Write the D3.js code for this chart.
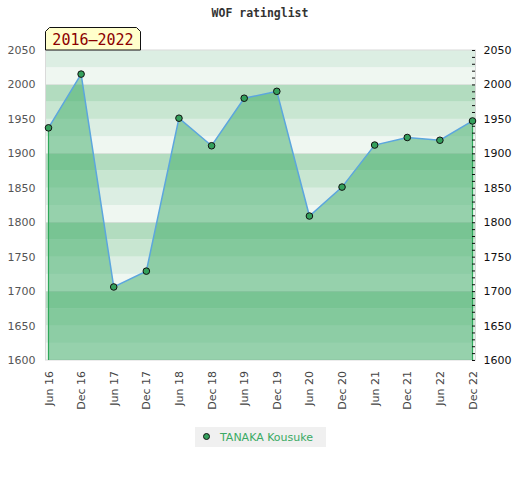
<!DOCTYPE html>
<html>
<head>
<meta charset="utf-8">
<script src="https://cdn.jsdelivr.net/npm/d3@7"></script>
<style>
  body { margin: 0; background: #fff; }
  svg { display: block; }
</style>
</head>
<body>
<div id="chart"></div>
<script>
// rating periods and values for TANAKA Kousuke
const periods = ["Jun 16", "Dec 16", "Jun 17", "Dec 17", "Jun 18", "Dec 18", "Jun 19",
                 "Dec 19", "Jun 20", "Dec 20", "Jun 21", "Dec 21", "Jun 22", "Dec 22"];
const ratings = [1937, 2015, 1706, 1729, 1951, 1911, 1980, 1990, 1809, 1851, 1912, 1923, 1919, 1947];
const yTicks = [1600, 1650, 1700, 1750, 1800, 1850, 1900, 1950, 2000, 2050];
const playerName = "TANAKA Kousuke";
const rangeLabel = "2016\u20132022";
const chartTitle = "WOF ratinglist";

const W = 520, H = 480;
const plot = { left: 45.5, right: 475.5, top: 50, bottom: 360 };
const stripColors = ["#b2dcbf", "#c8e6d1", "#dceee3", "#eff7f1"];

const svg = d3.select("#chart").append("svg")
    .attr("width", W)
    .attr("height", H);

const x = d3.scalePoint()
    .domain(periods)
    .range([48.5, 472.5]);

const y = d3.scaleLinear()
    .domain([1600, 2050])
    .range([plot.bottom, plot.top]);

// title
svg.append("text")
    .attr("x", 260)
    .attr("y", 17)
    .attr("text-anchor", "middle")
    .style("font-family", "'DejaVu Sans Mono', monospace")
    .style("font-weight", "bold")
    .style("font-size", "11.5px")
    .style("fill", "#333")
    .text(chartTitle);

// background strips, 4 per hundred
const strips = d3.range(1600, 2050, 25);
svg.append("g").selectAll("rect")
    .data(strips)
    .enter()
    .append("rect")
    .attr("x", plot.left)
    .attr("width", plot.right - plot.left)
    .attr("y", d => y(d + 25))
    .attr("height", d => y(d) - y(d + 25))
    .attr("fill", d => stripColors[((100 - ((d + 25) % 100)) % 100) / 25]);

// faint lines every hundred
svg.append("g").selectAll("line")
    .data(d3.range(1700, 2050, 100))
    .enter()
    .append("line")
    .attr("x1", plot.left)
    .attr("x2", plot.right)
    .attr("y1", d => Math.round(y(d)) + 0.5)
    .attr("y2", d => Math.round(y(d)) + 0.5)
    .attr("stroke", "#d6d6d6")
    .attr("stroke-opacity", 0.5);

// plot frame
svg.append("rect")
    .attr("x", plot.left)
    .attr("y", plot.top)
    .attr("width", plot.right - plot.left)
    .attr("height", plot.bottom - plot.top)
    .attr("fill", "none")
    .attr("stroke", "#dadada");

const data = periods.map((p, i) => ({ p, v: ratings[i] }));

// area under the rating line
const area = d3.area()
    .x(d => x(d.p))
    .y0(y(1600))
    .y1(d => y(d.v));

svg.append("path")
    .datum(data)
    .attr("d", area)
    .attr("fill", "rgba(62,172,103,0.5)")
    .attr("stroke", "none");

// green side edges of the area
svg.append("g").selectAll("line")
    .data([data[0], data[data.length - 1]])
    .enter()
    .append("line")
    .attr("x1", d => x(d.p))
    .attr("x2", d => x(d.p))
    .attr("y1", d => y(d.v))
    .attr("y2", y(1600))
    .attr("stroke", "#2fa85a")
    .attr("stroke-width", 1.2);

// rating line
svg.append("path")
    .datum(data)
    .attr("d", d3.line().x(d => x(d.p)).y(d => y(d.v)))
    .attr("fill", "none")
    .attr("stroke", "#5ca6de")
    .attr("stroke-width", 1.5);

// left axis: labels only
const leftAxis = svg.append("g")
    .attr("transform", `translate(${plot.left},0)`)
    .call(d3.axisLeft(y).tickValues(yTicks).tickSize(0).tickPadding(10).tickFormat(d3.format("d")));
leftAxis.select(".domain").remove();
leftAxis.selectAll("text")
    .style("font-family", "'DejaVu Sans', sans-serif")
    .style("font-size", "11px")
    .style("fill", "#555");

// right axis: minor ticks every 10
const rightTicks = svg.append("g")
    .attr("transform", `translate(${plot.right - 0.5},0)`)
    .call(d3.axisRight(y).tickValues(d3.range(1600, 2051, 10)).tickSize(-3).tickFormat(""));
rightTicks.select(".domain").remove();
rightTicks.selectAll("line").attr("stroke", "#111");

const rightAxis = svg.append("g")
    .attr("transform", `translate(${plot.right},0)`)
    .call(d3.axisRight(y).tickValues(yTicks).tickSize(0).tickPadding(8).tickFormat(d3.format("d")));
rightAxis.select(".domain").remove();
rightAxis.selectAll("text")
    .style("font-family", "'DejaVu Sans', sans-serif")
    .style("font-size", "11px")
    .style("fill", "#111");

// x labels, rotated
svg.append("g").selectAll("text")
    .data(periods)
    .enter()
    .append("text")
    .attr("transform", d => `translate(${x(d) + 4},371) rotate(-90)`)
    .attr("text-anchor", "end")
    .style("font-family", "'DejaVu Sans', sans-serif")
    .style("font-size", "11px")
    .style("fill", "#444")
    .text(d => d);

// points
svg.append("g").selectAll("circle")
    .data(data)
    .enter()
    .append("circle")
    .attr("cx", d => x(d.p))
    .attr("cy", d => y(d.v))
    .attr("r", 3.3)
    .attr("fill", "#34a05c")
    .attr("stroke", "#111")
    .attr("stroke-width", 1);

// range label tab
const tab = { x0: 45.5, x1: 140.5, y0: 27.5, y1: 50 };
svg.append("path")
    .attr("d", `M${tab.x0},${tab.y1} L${tab.x0},${tab.y0 + 4} L${tab.x0 + 4},${tab.y0} ` +
               `L${tab.x1 - 4},${tab.y0} L${tab.x1},${tab.y0 + 4} L${tab.x1},${tab.y1} Z`)
    .attr("fill", "#ffffcc")
    .attr("stroke", "#111")
    .attr("stroke-width", 1);

svg.append("text")
    .attr("x", (tab.x0 + tab.x1) / 2)
    .attr("y", 45)
    .attr("text-anchor", "middle")
    .style("font-family", "'DejaVu Sans Mono', monospace")
    .style("font-size", "15px")
    .style("fill", "#8b0000")
    .text(rangeLabel);

// legend
const legend = svg.append("g").attr("transform", "translate(195,427)");
legend.append("rect")
    .attr("width", 131)
    .attr("height", 20)
    .attr("fill", "#f0f0f0");
legend.append("circle")
    .attr("cx", 11.5)
    .attr("cy", 9.5)
    .attr("r", 3)
    .attr("fill", "#34a05c")
    .attr("stroke", "#111");
legend.append("text")
    .attr("x", 25)
    .attr("y", 14)
    .style("font-family", "'DejaVu Sans', sans-serif")
    .style("font-size", "11px")
    .style("fill", "#3aaa64")
    .text(playerName);
</script>
</body>
</html>
